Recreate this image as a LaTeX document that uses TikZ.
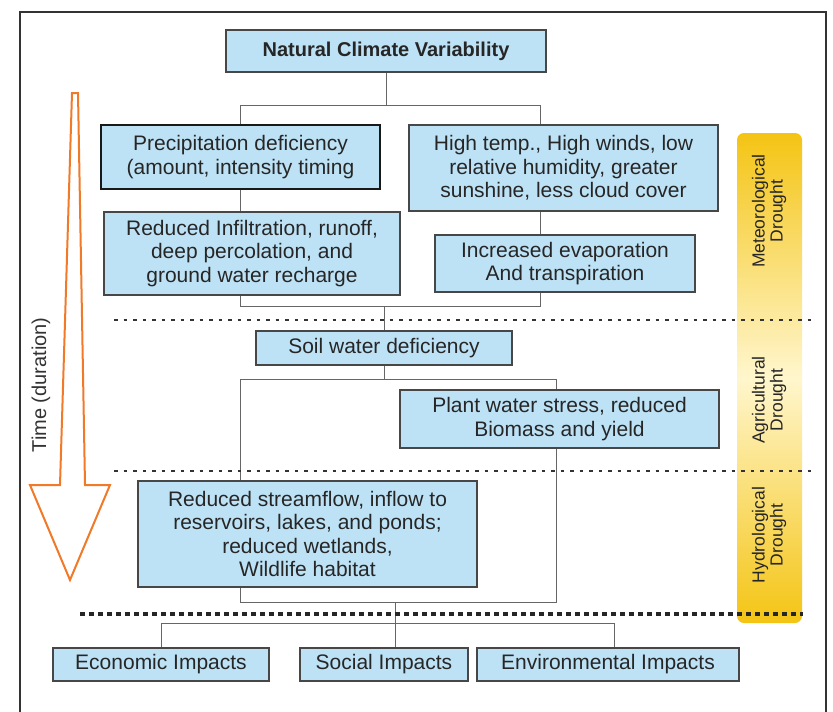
\documentclass[tikz,border=0pt]{standalone}
\usepackage{fontspec}
\setmainfont{Liberation Sans}
\usetikzlibrary{shadows}
\begin{document}
\begin{tikzpicture}[x=1pt,y=-1pt,
  box/.style={draw=black!72, line width=1.3pt, fill=boxblue, align=center, inner sep=0pt,
    font=\fontsize{21}{23.5}\selectfont, text=black!85,
    drop shadow={opacity=0.25, shadow xshift=1.2pt, shadow yshift=-1.2pt}},
  conn/.style={draw=black!60, line width=0.9pt},
  dotline/.style={draw=black!80, line width=2.8pt, dash pattern=on 3.5pt off 6pt},
  dotlinebig/.style={draw=black!85, line width=3.8pt, dash pattern=on 4.5pt off 4.5pt},
  bandlabel/.style={rotate=90, align=center, font=\fontsize{17.5}{18}\selectfont, text=black!85},
]
\definecolor{boxblue}{RGB}{190,226,245}
\definecolor{arroworange}{RGB}{240,122,40}
\definecolor{gold}{RGB}{244,196,20}
\definecolor{paleyellow}{RGB}{255,246,205}
\useasboundingbox (0,0) rectangle (833,712);
\fill[white] (0,0) rectangle (833,712);
% frame
\draw[black!80, line width=2pt] (20,712) -- (20,12) -- (826,12) -- (826,712);

% yellow band
\shade[rounded corners=7pt, top color=gold, bottom color=gold, middle color=paleyellow] (737,133) rectangle (802,623);
\node[bandlabel] (met) at (769,211) {Meteorological\\Drought};
\node[bandlabel] (agr) at (769,400) {Agricultural\\Drought};
\node[bandlabel] (hyd) at (769,535) {Hydrological\\Drought};

% time arrow
\draw[arroworange, line width=2pt, fill=white, line join=miter]
  (72,93) -- (78,93) -- (85,485) -- (110,485) -- (70,580) -- (30,485) -- (60,485) -- cycle;
\node[rotate=90, font=\fontsize{20}{22}\selectfont, text=black!80] (time) at (41,385) {Time (duration)};

% boxes
\node[box, minimum width=320, minimum height=42, font=\fontsize{20}{22}\selectfont\bfseries] (ncv) at (386,51) {Natural Climate Variability};
\node[box, draw=black!90, minimum width=279, minimum height=64] (prec) at (240.5,157) {Precipitation deficiency\\(amount, intensity timing};
\node[box, minimum width=309, minimum height=86] (high) at (563.5,168) {High temp., High winds, low\\relative humidity, greater\\sunshine, less cloud cover};
\node[box, minimum width=296, minimum height=83] (infil) at (252,253.5) {Reduced Infiltration, runoff,\\deep percolation, and\\ground water recharge};
\node[box, minimum width=260, minimum height=57] (evap) at (565,263.5) {Increased evaporation\\And transpiration};
\node[box, minimum width=256, minimum height=34] (soil) at (384,348) {Soil water deficiency};
\node[box, minimum width=319, minimum height=58] (plant) at (559.5,419) {Plant water stress, reduced\\Biomass and yield};
\node[box, minimum width=339, minimum height=106] (stream) at (307.5,534) {Reduced streamflow, inflow to\\reservoirs, lakes, and ponds;\\reduced wetlands,\\Wildlife habitat};
\node[box, minimum width=216, minimum height=33] (econ) at (161,664.5) {Economic Impacts};
\node[box, minimum width=168, minimum height=33] (social) at (384,664.5) {Social Impacts};
\node[box, minimum width=262, minimum height=33] (env) at (608,664.5) {Environmental Impacts};

% junction coordinates
\coordinate (b1) at (240,105);
\coordinate (b2) at (540,105);
\coordinate (c1) at (240,306);
\coordinate (c2) at (540,306);
\coordinate (d1) at (240,379);
\coordinate (d2) at (556,379);
\coordinate (e1) at (240,602);
\coordinate (e2) at (556,602);
\coordinate (f) at (395,602);
\coordinate (g1) at (161,623);
\coordinate (g2) at (614,623);

% connectors
\draw[conn] (ncv.south) -- (ncv.south |- b1);
\draw[conn] (prec.north -| b1) -- (b1) -- (b2) -- (high.north -| b2);
\draw[conn] (prec.south -| b1) -- (infil.north -| b1);
\draw[conn] (high.south -| b2) -- (evap.north -| b2);
\draw[conn] (infil.south -| c1) -- (c1) -- (c2) -- (evap.south -| c2);
\draw[conn] (soil.north |- c1) -- (soil.north);
\draw[conn] (soil.south) -- (soil.south |- d1);
\draw[conn] (stream.north -| d1) -- (d1) -- (d2) -- (plant.north -| d2);
\draw[conn] (plant.south -| e2) -- (e2) -- (e1) -- (stream.south -| e1);
\draw[conn] (f) -- (social.north -| f);
\draw[conn] (econ.north) -- (g1) -- (g2) -- (env.north -| g2);

% dotted separators
\draw[dotline] (114,320) -- (814,320);
\draw[dotline] (114,471) -- (814,471);
\draw[dotlinebig] (80,614) -- (803,614);
\end{tikzpicture}
\end{document}
